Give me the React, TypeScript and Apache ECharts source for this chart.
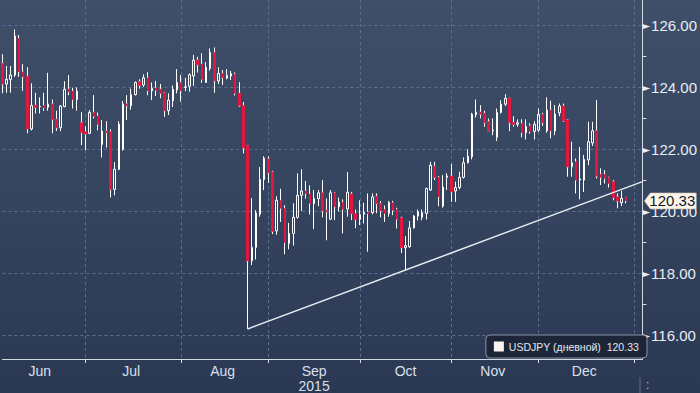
import React, { useEffect, useRef } from "react";
import * as echarts from "echarts";

// ---------- data ----------
const SERIES_NAME = "USDJPY (дневной)";
const CALENDAR_START = "2015-05-29";
const FIRST_DATE = "2015-06-02";
const CALENDAR_END = "2016-01-04";
const MONTH_NAMES = ["Jan", "Feb", "Mar", "Apr", "May", "Jun", "Jul", "Aug", "Sep", "Oct", "Nov", "Dec"];
const YEAR_LABEL_MONTH = "Sep";
const YEAR_LABEL = "2015";

const opens = [
  124.76, 124.10, 124.25, 124.39, 125.57, 124.49, 124.35, 122.65, 123.41, 123.36,
  123.40, 123.35, 123.45, 122.96, 122.69, 123.37, 123.93, 123.87, 123.60, 122.85,
  122.56, 122.51, 123.18, 123.07, 122.15, 122.58, 122.56, 120.70, 121.35, 121.99,
  123.46, 123.40, 123.76, 124.17, 124.07, 124.30, 123.88, 123.97, 123.93, 123.82,
  123.24, 123.56, 123.91, 124.15, 123.99, 124.03, 124.36, 124.87, 124.74, 124.15,
  124.60, 125.12, 124.20, 124.44, 124.29, 124.36, 124.42, 123.80, 123.41, 122.12,
  118.40, 118.83, 119.90, 121.02, 121.68, 121.26, 119.36, 120.35, 120.09, 118.96,
  119.28, 119.80, 120.51, 120.65, 120.55, 120.24, 120.40, 120.59, 120.03, 119.74,
  120.59, 120.14, 120.29, 120.07, 120.55, 119.92, 119.73, 119.90, 119.97, 119.95,
  120.48, 120.25, 120.05, 119.92, 120.27, 120.05, 119.78, 118.82, 118.85, 119.46,
  119.84, 119.80, 119.93, 120.68, 121.45, 121.09, 120.16, 121.09, 121.13, 120.65,
  120.76, 121.09, 121.56, 121.75, 123.11, 123.19, 123.15, 122.88, 122.59, 122.38,
  123.18, 123.45, 123.64, 122.86, 122.80, 122.83, 122.53, 122.75, 122.57, 122.61,
  123.12, 122.59, 123.26, 122.59, 123.17, 123.39, 122.94, 121.43, 121.59, 121.00,
  121.00, 121.65, 122.20, 122.59, 121.19, 121.19, 121.09, 120.95, 120.46, 120.27,
  120.44,
];
const closes = [
  124.10, 124.25, 124.39, 125.65, 124.49, 124.33, 122.65, 123.41, 123.35, 123.38,
  123.33, 123.45, 122.96, 122.69, 123.39, 123.93, 123.85, 123.60, 123.87, 122.53,
  122.49, 123.18, 123.06, 122.80, 122.58, 122.53, 120.70, 121.35, 122.81, 123.45,
  123.40, 123.76, 124.15, 124.06, 124.30, 123.88, 123.96, 123.90, 123.80, 123.24,
  123.58, 123.93, 124.15, 123.88, 124.01, 124.40, 124.87, 124.72, 124.25, 124.64,
  125.12, 124.20, 124.44, 124.31, 124.38, 124.43, 123.80, 123.40, 122.04, 118.40,
  118.83, 119.94, 121.02, 121.71, 121.24, 119.35, 120.35, 120.09, 118.98, 119.28,
  119.80, 120.51, 120.65, 120.57, 120.25, 120.41, 120.59, 120.01, 119.98, 120.59,
  120.14, 120.29, 120.06, 120.61, 119.92, 119.73, 119.89, 119.95, 119.92, 120.46,
  120.25, 120.01, 119.92, 120.28, 120.03, 119.74, 118.82, 118.89, 119.46, 119.84,
  119.98, 119.95, 120.73, 121.48, 121.09, 120.46, 120.78, 121.13, 120.62, 120.76,
  121.09, 121.56, 121.77, 123.13, 123.19, 123.13, 122.85, 122.59, 122.62, 123.18,
  123.45, 123.64, 122.85, 122.80, 122.85, 122.53, 122.73, 122.57, 122.80, 123.12,
  122.85, 123.26, 122.59, 123.13, 123.39, 122.91, 121.43, 121.56, 121.00, 121.04,
  121.67, 122.24, 122.59, 121.13, 121.09, 121.05, 120.89, 120.44, 120.33, 120.41,
  120.33,
];
const lows = [
  123.80, 123.82, 123.82, 124.33, 124.33, 123.88, 122.51, 122.60, 123.15, 123.15,
  123.23, 123.24, 122.51, 122.59, 122.58, 123.35, 123.74, 123.31, 123.24, 122.13,
  121.97, 122.48, 122.99, 122.61, 121.73, 122.05, 120.44, 120.51, 121.32, 121.95,
  122.94, 123.27, 123.73, 123.95, 124.01, 123.74, 123.58, 123.71, 123.64, 123.04,
  123.10, 123.36, 123.80, 123.53, 123.87, 123.85, 124.04, 124.47, 124.14, 124.14,
  124.53, 123.82, 124.10, 124.07, 124.25, 124.23, 123.73, 123.36, 121.86, 116.20,
  118.26, 118.44, 119.82, 120.68, 120.91, 119.26, 119.24, 119.65, 118.61, 118.77,
  118.89, 119.76, 120.00, 120.40, 119.89, 119.42, 120.16, 119.80, 119.06, 119.71,
  119.71, 119.99, 119.28, 119.82, 119.71, 119.45, 119.55, 119.60, 118.69, 119.90,
  119.93, 119.80, 119.65, 119.82, 119.87, 119.44, 118.65, 118.10, 118.82, 119.44,
  119.70, 119.71, 119.73, 120.65, 121.00, 120.16, 120.11, 120.68, 120.30, 120.30,
  120.70, 121.05, 121.54, 121.67, 123.02, 122.99, 122.72, 122.59, 122.45, 122.26,
  123.15, 123.39, 122.58, 122.72, 122.72, 122.38, 122.31, 122.50, 122.31, 122.56,
  122.75, 122.53, 122.35, 122.45, 123.06, 122.88, 121.11, 121.11, 120.57, 120.38,
  120.62, 121.48, 122.10, 121.05, 120.84, 120.89, 120.76, 120.35, 120.09, 120.16,
  120.25,
];
const highs = [
  125.06, 124.68, 124.68, 125.86, 125.68, 124.74, 124.64, 124.12, 123.82, 123.67,
  123.82, 124.46, 123.60, 123.24, 123.42, 124.19, 124.39, 123.98, 123.99, 123.19,
  122.74, 123.26, 123.74, 123.18, 122.94, 122.90, 122.64, 121.58, 122.90, 123.55,
  123.74, 123.95, 124.18, 124.25, 124.41, 124.48, 124.15, 124.20, 124.10, 123.85,
  123.80, 124.05, 124.58, 124.39, 124.30, 124.44, 125.04, 124.98, 125.09, 124.81,
  125.25, 125.28, 124.64, 124.55, 124.58, 124.52, 124.47, 124.16, 123.52, 122.12,
  120.42, 120.03, 121.42, 121.77, 121.77, 121.30, 120.48, 120.72, 120.19, 119.62,
  120.25, 121.22, 121.35, 120.97, 120.83, 120.68, 120.68, 121.00, 120.41, 120.68,
  120.62, 120.44, 120.38, 121.26, 120.62, 120.05, 120.35, 120.27, 120.57, 120.57,
  120.57, 120.32, 120.18, 120.33, 120.33, 120.11, 119.82, 119.19, 119.68, 119.87,
  120.05, 120.05, 120.76, 121.59, 121.59, 121.13, 121.16, 121.22, 121.52, 120.95,
  121.27, 121.73, 121.99, 123.17, 123.60, 123.42, 123.24, 122.99, 122.99, 123.31,
  123.58, 123.77, 123.64, 123.06, 122.96, 122.96, 122.96, 122.83, 122.90, 123.31,
  123.17, 123.67, 123.56, 123.42, 123.47, 123.47, 122.96, 122.24, 121.70, 122.07,
  121.81, 122.88, 122.88, 123.58, 121.38, 121.32, 121.11, 121.00, 120.57, 120.65,
  120.46,
];

const trendStart = { date: "2015-08-24", value: 116.2 };
const trendEnd = { date: "2016-01-04", value: 120.95 };

const Y_MIN = 115.23;
const Y_MAX = 126.81;
const Y_LABEL_STEP = 2;

// ---------- derived ----------
function weekdays(from: string, to: string): string[] {
  const [fy, fm, fd] = from.split("-").map(Number);
  const [ty, tm, td] = to.split("-").map(Number);
  let t = Date.UTC(fy, fm - 1, fd);
  const end = Date.UTC(ty, tm - 1, td);
  const out: string[] = [];
  while (t <= end) {
    const d = new Date(t);
    const wd = d.getUTCDay();
    if (wd !== 0 && wd !== 6) out.push(d.toISOString().slice(0, 10));
    t += 86400000;
  }
  return out;
}

const allDays = weekdays(CALENDAR_START, CALENDAR_END);
const offset = allDays.indexOf(FIRST_DATE);
const categories = allDays.slice(offset);

const monthEnds: number[] = [];
for (let i = 0; i < allDays.length - 1; i++) {
  if (allDays[i].slice(0, 7) !== allDays[i + 1].slice(0, 7)) monthEnds.push(i);
}
const tickSet = new Set(monthEnds.map((i) => i - offset).filter((i) => i >= 0));
const labelMap = new Map<number, string>();
for (let k = 1; k < monthEnds.length; k++) {
  const mid = Math.floor((monthEnds[k - 1] + monthEnds[k]) / 2) - offset;
  const m = Number(allDays[monthEnds[k]].slice(5, 7)) - 1;
  const name = MONTH_NAMES[m];
  labelMap.set(mid, name === YEAR_LABEL_MONTH ? name + "\n" + YEAR_LABEL : name);
}

const candleData = opens.map((o, i) => [o, closes[i], lows[i], highs[i]]);
const bodyData = opens.map((o, i) => [o, closes[i], Math.min(o, closes[i]), Math.max(o, closes[i])]);
const lastIdx = closes.length - 1;
const lastClose = closes[lastIdx];
const lastDate = categories[lastIdx];

const NARROW = "'Liberation Sans Narrow', 'Arial Narrow', 'Liberation Sans', Arial, sans-serif";
const AXIS_COLOR = "#d3dae3";
const GRID_COLOR = "#587091";
const RED = "#e2163e";

export default function App() {
  const ref = useRef<HTMLDivElement>(null);
  useEffect(() => {
    if (!ref.current) return;
    const chart = echarts.init(ref.current, undefined, { renderer: "svg" });
    const option: any = {
      animation: false,
      backgroundColor: new echarts.graphic.LinearGradient(0, 0, 0, 1, [
        { offset: 0, color: "#3f4f69" },
        { offset: 0.3, color: "#394963" },
        { offset: 0.65, color: "#32405c" },
        { offset: 1, color: "#2b3854" },
      ]),
      textStyle: { fontFamily: NARROW },
      grid: { left: 2.4, right: 51.6, top: 0, bottom: 34, containLabel: false },
      legend: {
        show: true,
        right: 53,
        bottom: 35,
        selectedMode: false,
        backgroundColor: "#1c2638",
        borderColor: "#8793a4",
        borderWidth: 1,
        borderRadius: 4,
        padding: [6, 8, 6, 8],
        itemWidth: 10,
        itemHeight: 10,
        textStyle: { color: "#e3e9f0", fontSize: 10.5, fontFamily: "'Liberation Sans', Arial, sans-serif" },
        formatter: (name: string) => name + "\u00a0\u00a0" + lastClose.toFixed(2),
        data: [{ name: SERIES_NAME, icon: "rect", itemStyle: { color: "#fbf3ee", borderWidth: 0 } }],
      },
      xAxis: {
        type: "category",
        data: categories,
        boundaryGap: false,
        axisLine: { show: true, lineStyle: { color: AXIS_COLOR, width: 1 } },
        axisTick: {
          show: true,
          interval: (idx: number) => tickSet.has(idx),
          length: 4,
          lineStyle: { color: AXIS_COLOR },
        },
        splitLine: {
          show: true,
          interval: (idx: number) => tickSet.has(idx),
          lineStyle: { color: GRID_COLOR, type: [3, 3], width: 1 },
        },
        axisLabel: {
          interval: (idx: number) => labelMap.has(idx),
          formatter: (_v: string, idx: number) => labelMap.get(idx) || "",
          color: "#d8e0ea",
          fontSize: 14,
          lineHeight: 15,
          margin: 4,
          fontFamily: NARROW,
        },
      },
      yAxis: {
        type: "value",
        position: "right",
        min: Y_MIN,
        max: Y_MAX,
        splitNumber: 5,
        axisLine: { show: true, lineStyle: { color: AXIS_COLOR, width: 1 } },
        axisTick: { show: false },
        minorTick: { show: true, splitNumber: 2, length: 4, lineStyle: { color: AXIS_COLOR } },
        splitLine: {
          show: true,
          showMinLine: false,
          showMaxLine: false,
          lineStyle: { color: GRID_COLOR, type: [3, 3], width: 1 },
        },
        axisLabel: {
          showMinLabel: false,
          showMaxLabel: false,
          margin: 0,
          formatter: (v: number) => {
            const q = v / Y_LABEL_STEP;
            if (Math.abs(q - Math.round(q)) > 1e-6) return "";
            return "{t|\u25BA}{v|" + v.toFixed(2) + "}";
          },
          rich: {
            t: { fontSize: 10, color: "#e8eef5", fontFamily: "'DejaVu Sans', sans-serif", padding: [0, 1, 0, 0] },
            v: { fontSize: 15, color: "#e8eef5", fontFamily: NARROW },
          },
        },
      },
      series: [
        {
          name: SERIES_NAME,
          type: "candlestick",
          data: candleData,
          barWidth: 2,
          clip: false,
          itemStyle: {
            color: "transparent",
            color0: "transparent",
            borderColor: "#ffffff",
            borderColor0: "#ffffff",
            borderWidth: 1,
          },
          markLine: {
            silent: true,
            symbol: ["none", "none"],
            label: { show: false },
            lineStyle: { color: "#e8ecf1", width: 1.5, type: "solid" },
            data: [[
              { coord: [trendStart.date, trendStart.value] },
              { coord: [trendEnd.date, trendEnd.value] },
            ]],
          },
          markPoint: {
            silent: true,
            symbol: "path://M0,8L6,0L52,0L52,16L6,16Z",
            symbolSize: [52, 16],
            symbolKeepAspect: false,
            symbolOffset: [44.5, 0],
            itemStyle: { color: "#fdf5ea", borderColor: "#bdb5a8", borderWidth: 0.5 },
            label: {
              show: true,
              position: "inside",
              offset: [2, 0],
              color: "#101828",
              fontSize: 15,
              fontFamily: NARROW,
              formatter: () => lastClose.toFixed(2),
            },
            data: [{ coord: [lastDate, lastClose], value: lastClose }],
          },
        },
        {
          name: "bodies",
          type: "candlestick",
          data: bodyData,
          barWidth: 2,
          clip: false,
          itemStyle: {
            color: "transparent",
            borderColor: "transparent",
            color0: RED,
            borderColor0: RED,
            borderWidth: 1,
          },
        },
      ],
      graphic: [
        { type: "line", shape: { x1: 640, y1: 377, x2: 640, y2: 393 }, style: { stroke: "#5d7090", lineWidth: 1 } },
        { type: "text", x: 646, y: 379, style: { text: ":", fill: "#c3ccd8", fontSize: 12, fontFamily: "'Liberation Sans', sans-serif" } },
      ],
    };
    chart.setOption(option);
    return () => chart.dispose();
  }, []);
  return (
    <div
      ref={ref}
      style={{ position: "fixed", left: 0, top: 0, width: 700, height: 393 }}
    />
  );
}
